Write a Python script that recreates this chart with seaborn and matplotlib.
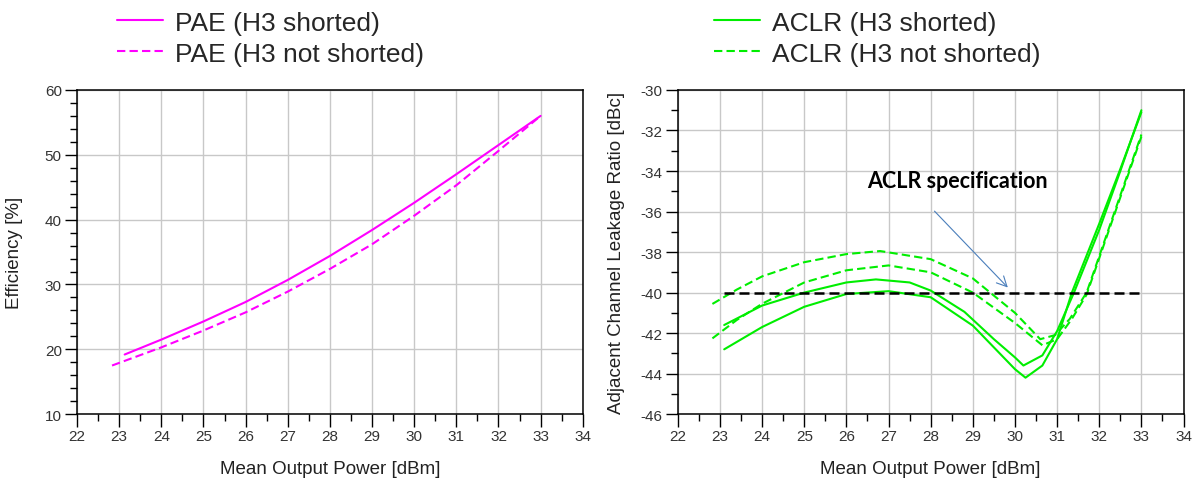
import numpy as np
import pandas as pd
import seaborn as sns
import matplotlib.pyplot as plt
from matplotlib.ticker import MultipleLocator

# PAE data (left panel)
pae_x_short = [23.13, 24, 25, 26, 27, 28, 29, 30, 31, 32, 33]
pae_short = [19.2, 21.5, 24.3, 27.3, 30.7, 34.4, 38.4, 42.6, 47.0, 51.5, 56.0]
pae_x_open = [22.83, 24, 25, 26, 27, 28, 29, 30, 31, 32, 33]
pae_open = [17.5, 20.3, 22.9, 25.7, 28.9, 32.4, 36.2, 40.6, 45.3, 50.6, 56.0]

# ACLR data (right panel), two channels per configuration
aclr_x_short_a = [23.1, 24, 25, 26, 26.7, 27.5, 28, 28.8, 29.5, 30.0, 30.2, 30.65, 31.0, 31.4, 32, 32.5, 33]
aclr_short_a = [-41.6, -40.64, -40.0, -39.5, -39.35, -39.5, -39.9, -40.95, -42.3, -43.2, -43.6, -43.1, -41.9, -40.0, -36.9, -34.0, -31.0]
aclr_x_short_b = [23.1, 24, 25, 26, 27, 28, 29, 30, 30.25, 30.65, 31.0, 31.35, 32, 32.5, 33]
aclr_short_b = [-42.8, -41.7, -40.7, -40.07, -39.93, -40.23, -41.63, -43.78, -44.2, -43.6, -42.3, -40.0, -36.6, -33.9, -31.1]
aclr_x_open_a = [22.82, 23.4, 24, 25, 26, 26.8, 28, 29, 30, 30.6, 30.95, 31.3, 31.7, 32, 32.5, 33]
aclr_open_a = [-40.56, -39.85, -39.2, -38.5, -38.1, -37.95, -38.35, -39.3, -41.0, -42.3, -42.1, -41.3, -40.0, -38.2, -35.2, -32.2]
aclr_x_open_b = [22.82, 23.4, 24, 25, 26, 27, 28, 29, 30, 30.65, 31.0, 31.35, 31.7, 32, 32.5, 33]
aclr_open_b = [-42.26, -41.35, -40.55, -39.5, -38.9, -38.66, -39.0, -40.0, -41.5, -42.6, -42.3, -41.3, -40.1, -38.3, -35.3, -32.3]

spec_x = [23.1, 33]
spec_y = [-40, -40]

sns.set_theme(style="white")
plt.rcParams['font.family'] = ['Liberation Sans', 'DejaVu Sans']
plt.rcParams['axes.unicode_minus'] = False

MAGENTA = "#ff00ff"
GREEN = "#00ee00"
TICK_COLOR = "#333333"

fig = plt.figure(figsize=(12.04, 4.89), dpi=100)
ax1 = fig.add_axes([0.064, 0.151, 0.420, 0.663])
ax2 = fig.add_axes([0.563, 0.151, 0.420, 0.663])

lw = 1.5
dash = (4, 2)

sns.lineplot(x=pae_x_short, y=pae_short, ax=ax1, color=MAGENTA, lw=lw,
             label="PAE (H3 shorted)", sort=False)
sns.lineplot(x=pae_x_open, y=pae_open, ax=ax1, color=MAGENTA, lw=lw,
             label="PAE (H3 not shorted)", sort=False)
ax1.lines[-1].set_dashes(dash)

sns.lineplot(x=aclr_x_short_a, y=aclr_short_a, ax=ax2, color=GREEN, lw=lw,
             label="ACLR (H3 shorted)", sort=False)
sns.lineplot(x=aclr_x_short_b, y=aclr_short_b, ax=ax2, color=GREEN, lw=lw, sort=False)
sns.lineplot(x=aclr_x_open_a, y=aclr_open_a, ax=ax2, color=GREEN, lw=lw,
             label="ACLR (H3 not shorted)", sort=False)
ax2.lines[-1].set_dashes(dash)
sns.lineplot(x=aclr_x_open_b, y=aclr_open_b, ax=ax2, color=GREEN, lw=lw, sort=False)
ax2.lines[-1].set_dashes(dash)
sns.lineplot(x=spec_x, y=spec_y, ax=ax2, color="black", lw=1.8, sort=False)
ax2.lines[-1].set_dashes((4, 2))

ax2.text(28.64, -34.45, "ACLR specification", ha="center", va="center",
         fontsize=15.5, fontweight="bold", family=["Lato", "DejaVu Sans"],
         color="black")
ax2.annotate("", xy=(29.83, -39.75), xytext=(28.09, -35.98),
             arrowprops=dict(arrowstyle="->,head_length=0.6,head_width=0.3",
                             color="#4a7ebb", lw=0.8, shrinkA=0, shrinkB=0))

for ax, ylim, ymaj, ymin, ylabel, pad in [
        (ax1, (10, 60), 10, 2, "Efficiency [%]", 16),
        (ax2, (-46, -30), 2, 1, "Adjacent Channel Leakage Ratio [dBc]", 11)]:
    ax.set_xlim(22, 34)
    ax.set_ylim(*ylim)
    ax.xaxis.set_major_locator(MultipleLocator(1))
    ax.xaxis.set_minor_locator(MultipleLocator(0.5))
    ax.yaxis.set_major_locator(MultipleLocator(ymaj))
    ax.yaxis.set_minor_locator(MultipleLocator(ymin))
    ax.grid(True, which="major", color="#c8c8c8", lw=1.0)
    ax.tick_params(which="major", direction="out", length=9, width=1,
                   color="black", labelsize=11, labelcolor=TICK_COLOR,
                   bottom=True, left=True, pad=2)
    ax.tick_params(which="minor", direction="out", length=5, width=1,
                   color="black", bottom=True, left=True)
    for s in ax.spines.values():
        s.set_color("black")
        s.set_linewidth(1.1)
    ax.set_xlabel("Mean Output Power [dBm]", fontsize=13.5, color="#222222", labelpad=12)
    ax.set_ylabel(ylabel, fontsize=13.5, color="#222222", labelpad=pad)
    ax.get_legend().remove()

for ax, x0 in [(ax1, 0.097), (ax2, 0.593)]:
    handles, labels = ax.get_legend_handles_labels()
    ax.legend(handles, labels, loc="upper left", bbox_to_anchor=(x0, 0.976),
              bbox_transform=fig.transFigure, frameon=False, fontsize=19,
              borderpad=0, borderaxespad=0, handlelength=1.75,
              handletextpad=0.45, labelspacing=0.26)

fig.savefig("out.png", dpi=100)
